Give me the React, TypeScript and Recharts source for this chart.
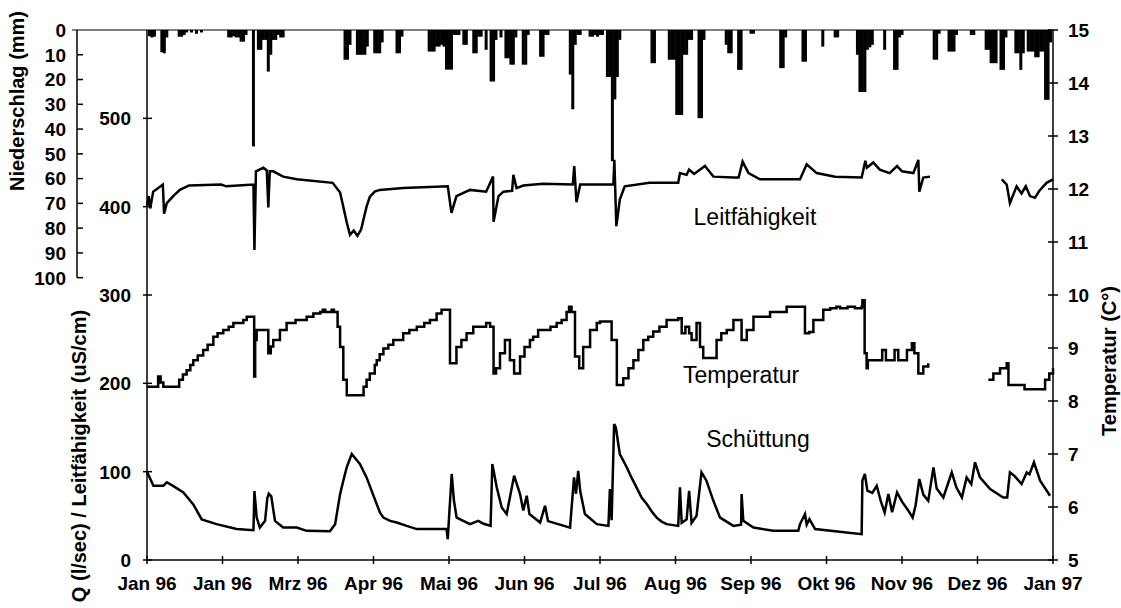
import React from 'react';
import {
  ComposedChart,
  Bar,
  Line,
  XAxis,
  YAxis,
  ReferenceLine,
  ReferenceDot,
} from 'recharts';

const FONT = '"Liberation Sans", Arial, Helvetica, sans-serif';

const WIDTH = 1121;
const HEIGHT = 608;
const TOP = 30;
const X_AXIS_H = 48;
const PLOT_H = HEIGHT - TOP - X_AXIS_H;
const RAIN_AXIS_W = 77;
const FLOW_AXIS_W = 70;
const TEMP_AXIS_W = 68;
const RAIN_MAX = 214;
const RAIN_STEP = (PLOT_H * 10) / RAIN_MAX;
const RAIN_BAR_W = 3;

// x axis: day of year 1996, ticks every 30.5 days
const monthTicks = [0, 30.5, 61, 91.5, 122, 152.5, 183, 213.5, 244, 274.5, 305, 335.5, 366];
const monthLabels = [
  'Jan 96', 'Jan 96', 'Mrz 96', 'Apr 96', 'Mai 96', 'Jun 96', 'Jul 96',
  'Aug 96', 'Sep 96', 'Okt 96', 'Nov 96', 'Dez 96', 'Jan 97',
];
const rainTicks = [0, 10, 20, 30, 40, 50, 60, 70, 80, 90, 100];
const flowTicks = [0, 100, 200, 300, 400, 500];
const tempTicks = [5, 6, 7, 8, 9, 10, 11, 12, 13, 14, 15];

// Niederschlag (mm/Tag)
const rainDays = [
  1, 2, 3, 6, 7, 8, 13, 14, 15, 16, 18, 20, 22, 33, 34, 35, 36, 37, 38, 39, 40,
  43, 45, 46, 47, 48, 49, 50, 51, 52, 53, 54, 55, 80, 81, 82, 85, 86, 87, 88, 89,
  92, 93, 94, 95, 101, 102, 103, 114, 115, 116, 117, 118, 119, 120, 121, 122, 123,
  124, 125, 126, 128, 129, 132, 133, 134, 135, 137, 139, 140, 141, 143, 145, 146,
  147, 148, 149, 152, 153, 154, 159, 160, 161, 162, 171, 172, 173, 174, 175, 179,
  180, 181, 182, 183, 184, 186, 187, 188, 189, 190, 191, 204, 205, 211, 212, 213,
  214, 215, 216, 217, 218, 219, 220, 223, 224, 225, 234, 235, 236, 239, 240, 244,
  245, 256, 257, 258, 265, 266, 273, 278, 279, 287, 288, 289, 290, 291, 292, 293,
  298, 302, 303, 304, 305, 318, 319, 320, 324, 325, 326, 327, 333, 334, 339, 340,
  341, 342, 343, 345, 346, 347, 351, 352, 353, 354, 356, 357, 358, 359, 360, 361,
  362, 363, 364, 365,
];
const rainMm = [
  2.5, 3, 2.7, 9, 9.4, 3, 2.7, 2.7, 2, 1, 1, 1.5, 1, 3, 3, 2.5, 3, 3, 4.7, 4.7, 2,
  47, 8, 8, 4, 4, 16.8, 10, 4, 4, 2, 3, 3, 12, 12, 6, 10, 10, 10, 10, 6.7,
  9.4, 9.4, 9.4, 5, 9.4, 9.4, 2.7, 8.7, 8.7, 8.7, 6.7, 6.7, 6, 6.7, 16, 16, 16,
  2, 2, 2, 6, 6, 9.4, 9.4, 2.7, 2.7, 8, 20.8, 20.8, 4, 3, 11.4, 11.4,
  14, 14, 3, 14, 14, 2, 10.8, 10.8, 2, 2, 18, 32, 6, 2, 2, 2.7,
  2.7, 2, 2.7, 2, 2, 19, 19, 53, 28, 19, 4, 13.4, 13.4, 12, 12, 12,
  34.3, 34.3, 34.3, 10, 10, 4, 4, 35.6, 35.6, 4, 6, 9.4, 9.4, 16.1, 16.1, 1.5,
  1.5, 15.4, 15.4, 3, 12.8, 12.8, 6.7, 3, 3, 10, 25, 25, 25, 8, 7, 6,
  8, 16.1, 16.1, 3, 2, 12, 12, 1.5, 8.7, 8.7, 8.7, 2, 2, 2, 8, 8,
  13.4, 13.4, 13.4, 16.1, 16.1, 3, 9.4, 9.4, 16.1, 9.4, 8.7, 8.7, 8.7, 11, 11, 8.7,
  8.7, 28.2, 28.2, 5,
];

// Leitfähigkeit (uS/cm), Lücke im Nov/Dez
const leitDays = [
  0, 0.7, 1.3, 2.5, 4, 6.4, 6.9, 8, 10.6, 13.3, 17, 30, 32, 43, 43.4, 44, 47, 48.4, 49,
  49.6, 51, 55, 60.5, 75, 78, 79.3, 80.7, 82, 83.5, 85, 86.5, 87.4, 88.7, 90, 92, 94, 103.5,
  121.5, 123, 125, 130.5, 137, 139.8, 140, 142, 144, 147.5, 148, 149.3, 152, 160,
  172, 172.6, 173.5, 175, 185, 188.4, 188.8, 189.6, 191, 193, 203, 214.6, 215.3,
  218, 219, 221, 225.4, 228.8, 236.9, 239, 240.6, 243, 247.6, 263.8, 266.5, 270.5,
  278, 288.7, 290.2, 290.8, 293.4, 296, 300, 303, 305, 309.6, 311.6, 312, 313.6,
  316.3, 330, 345.3, 347.3, 348.6, 351.3, 353.3, 355, 356.7, 358.7, 360.5, 363.4, 366,
];
const leitValues = [
  400, 412, 398, 417, 420, 425, 392, 404, 412, 419, 424, 425, 423, 425, 351, 440, 444, 441, 399,
  440, 440, 434, 431, 427, 416, 400, 382, 368, 373, 367, 374, 385, 400, 411, 417, 419, 421,
  423, 393, 412, 419, 417, 434, 383, 412, 417, 418, 436, 421, 424, 426,
  425, 446, 405, 425, 425, 425, 453, 378, 408, 423, 427, 427, 438,
  436, 442, 437, 446, 434, 433, 433, 451, 438, 431, 431, 448, 438,
  434, 433, 452, 444, 450, 442, 438, 446, 440, 438, 453, 417, 433,
  434, null, 431, 425, 404, 423, 415, 423, 412, 410, 418, 427, 431,
];

// Temperatur (°C)
const tempDays = [
  0, 4, 4.5, 5.5, 6.6, 12, 13, 14.5, 16, 17.5, 18.7, 20.5, 22.7, 24.5, 26.8, 28.5,
  30.8, 33, 34.9, 38.9, 40.3, 43, 43.3, 43.7, 44.3, 48.4, 49, 50, 51, 53.7, 56.4, 60,
  64.5, 67.2, 70, 71, 72, 74.6, 75.5, 77, 78, 79.3, 80.7, 86, 87.5, 88.7, 90, 92,
  92.8, 94, 95.5, 97.5, 99.5, 103.5, 106, 109, 112, 114.3, 117, 119, 121.7, 122.4,
  125, 127, 129.1, 131.8, 136, 137, 138.6, 140, 141, 142.6, 144.6, 146.6, 148.3,
  150.7, 152.5, 154.7, 156, 158, 160, 163, 165.5, 167.5, 169.5, 170.5, 171.5, 172.2,
  172.9, 174.6, 176.2, 179, 181.7, 183, 186.4, 187.7, 189.8, 192.4, 194.5, 196.5,
  198.5, 200.5, 202.5, 204.5, 207, 209.9, 214.6, 216, 217.5, 219, 220, 222, 223.4,
  224.7, 227.4, 230.1, 232, 234.2, 236.9, 240, 240.2, 242.3, 245, 251.7, 258.4,
  263.8, 265.8, 267.5, 269.2, 273.2, 276, 278.5, 280, 283, 286, 288.7, 289, 289.9,
  290.7, 291.2, 296, 297, 298.5, 300.5, 302, 303.5, 305, 307, 309, 310, 311.6,
  313.6, 315.6, 328, 339.9, 341.9, 344.6, 347.3, 348, 354, 354.5, 360.7, 362.8,
  364.5, 366,
];
const tempValues = [
  8.27, 8.27, 8.46, 8.35, 8.27, 8.27, 8.4, 8.5, 8.58, 8.68, 8.77, 8.86, 8.96, 9.06, 9.21, 9.28,
  9.34, 9.4, 9.47, 9.53, 9.59, 9.59, 8.46, 9.15, 9.34, 9.34, 8.9, 9.03, 9.15, 9.34, 9.47, 9.53,
  9.59, 9.65, 9.68, 9.72, 9.68, 9.72, 9.68, 9.4, 9.02, 8.4, 8.11, 8.11, 8.27, 8.4, 8.52, 8.68,
  8.77, 8.88, 8.99, 9.06, 9.15, 9.28, 9.34, 9.4, 9.47, 9.53, 9.65, 9.72, 9.72, 8.71,
  9.02, 9.15, 9.28, 9.4, 9.4, 9.47, 9.4, 8.52, 8.62, 8.9, 9.15, 8.77, 8.52,
  8.84, 9.02, 9.15, 9.21, 9.34, 9.34, 9.4, 9.47, 9.53, 9.68, 9.78, 9.68, 9.68,
  8.84, 8.62, 9.02, 9.34, 9.47, 9.5, 9.5, 9.15, 8.3, 8.43, 8.62, 8.77,
  8.96, 9.15, 9.21, 9.31, 9.4, 9.53, 9.56, 9.28, 9.4, 9.28, 9.15, 9.47, 9.02,
  8.81, 8.81, 9.15, 9.28, 9.34, 9.53, 9.53, 9.15, 9.34, 9.59, 9.68, 9.78,
  9.78, 9.28, 9.3, 9.53, 9.72, 9.75, 9.78, 9.75, 9.78, 9.75, 9.78, 9.9, 8.9,
  8.62, 8.77, 8.77, 8.96, 8.77, 8.77, 8.96, 8.77, 8.77, 8.96, 9.09, 8.9, 8.52,
  8.65, 8.71, null, 8.4, 8.52, 8.62, 8.71, 8.3, 8.3, 8.22, 8.22, 8.4,
  8.52, 8.62,
];

// Schüttung Q (l/sec)
const flowDays = [
  0, 2.6, 6.6, 8, 11, 14.7, 18.7, 22.1, 28.1, 36.2, 43, 43.4, 44.3, 45.6, 47.7, 48.6,
  49.2, 50.2, 51.7, 55, 60.5, 64.5, 73.9, 76, 78, 79.3, 80.7, 82.7, 86, 88.7, 90.8, 92.8,
  94.1, 95.5, 98.2, 100.9, 104.9, 109, 121, 121.5, 122.1, 123.1, 124, 125.1, 130.5, 133.8,
  136, 138.8, 139.5, 141.3, 143.3, 145.3, 148.3, 150.7, 152, 153.4, 154.5, 158.8, 160.8,
  162, 170.9, 172.5, 173.3, 174.2, 175, 176.9, 181.7, 186.4, 187, 187.7, 188.7, 189.4,
  191, 192.4, 193.8, 195.7, 197.8, 199.8, 201.9, 203.9, 205.9, 207.9, 209.9, 214.6,
  215.3, 216, 218, 219, 220, 222, 224, 226,
  228.8, 231.5, 236.9, 240, 240.2, 240.9, 245, 253, 263.1, 263.8, 265.8, 266.5, 267.6,
  269.9, 278, 288.7, 289, 290, 291, 293, 294.8, 296.5, 298, 299.5, 301, 303, 305,
  307.6, 309.3, 310.5, 312, 313.6, 315.6, 317.7, 319, 321.7, 325.1, 327, 329.2,
  331.1, 333, 334.5, 336.5, 340.6, 345.9, 347.5, 348.6, 350.5, 353.3, 355.4, 356.5,
  358.3, 360.8, 364.8,
];
const flowValues = [
  100, 84, 84, 88, 83, 76.5, 63, 46, 40.6, 35, 33.7, 78, 48, 36.7, 44.3, 70,
  75, 72, 44.3, 36.7, 36.7, 33, 32.5, 40.6, 74.6, 89.8, 105, 120, 108.7, 93.5, 78, 63.3,
  53.8, 48, 44.3, 42.4, 38.6, 35, 35, 23.5, 52, 97.4, 67, 48, 40.6, 44.3,
  41, 38.6, 108.7, 82, 59.4, 52, 95.5, 74.6, 56, 72.7, 52, 42.4, 61.4,
  44, 36.7, 93.5, 75, 101, 78, 52, 40.6, 38.6, 80.3, 45, 154, 150,
  120, 112.5, 105, 93.5, 82, 70.8, 63.3, 55, 48, 43.5, 40.6, 38.6,
  82.2, 42, 46, 78.4, 42, 50, 99.2, 89.8,
  67, 48, 38.6, 40, 74.6, 44.3, 36.7, 33, 33, 40.6, 52, 40, 46.2,
  35, 32.5, 29.2, 89.8, 97.4, 78.4, 76, 84, 66, 53.8, 74.6, 54, 76.5, 66,
  55.7, 48, 62, 91.7, 74, 67, 104.9, 81, 70.8, 99.2, 82, 70.8,
  93.5, 86, 110.6, 93.5, 80.3, 70.8, 70.8, 99.2, 95, 86, 99.2, 97,
  110.6, 89.8, 72.7,
];

const rainData = rainDays.map((day, i) => ({ day, rain: rainMm[i] }));
const leitData = leitDays.map((day, i) => ({ day, leit: leitValues[i] }));
const tempData = tempDays.map((day, i) => ({ day, temp: tempValues[i] }));
const flowData = flowDays.map((day, i) => ({ day, flow: flowValues[i] }));

const INK = '#000';
const tickText = { fontSize: 19, fontWeight: 700, fill: INK };

// the line series use fractional days, so recharts' own band is far too narrow;
// draw each daily bar at a fixed width centred on its day
function RainBar({ x, y, width, height }: any) {
  if (!Number.isFinite(x) || !Number.isFinite(y) || !height) return null;
  const top = Math.min(y, y + height);
  return (
    <rect
      x={x + width / 2 - RAIN_BAR_W / 2}
      y={top}
      width={RAIN_BAR_W}
      height={Math.abs(height)}
      fill={INK}
    />
  );
}

function MonthTick({ x, y, index }: any) {
  return (
    <g>
      <line x1={x} y1={y - 4} x2={x} y2={y + 4} stroke={INK} strokeWidth={1.5} />
      <text x={x} y={y + 30} textAnchor="middle" {...tickText}>
        {monthLabels[index]}
      </text>
    </g>
  );
}

function RainTick({ x, y, payload }: any) {
  const v = payload.value;
  return (
    <g>
      {v > 0 && (
        <line x1={x} y1={y - RAIN_STEP} x2={x} y2={y} stroke={INK} strokeWidth={1.5} />
      )}
      {v === 0 ? (
        <line x1={x - 5} y1={y} x2={x + FLOW_AXIS_W} y2={y} stroke={INK} strokeWidth={1.2} />
      ) : (
        <line x1={x} y1={y} x2={x + 6} y2={y} stroke={INK} strokeWidth={1.5} />
      )}
      <text x={x - 11} y={y} dy="0.36em" textAnchor="end" {...tickText}>
        {v}
      </text>
    </g>
  );
}

function FlowTick({ x, y, payload }: any) {
  return (
    <g>
      <line x1={x - 4} y1={y} x2={x + 5} y2={y} stroke={INK} strokeWidth={1.5} />
      <text x={x - 16} y={y} dy="0.36em" textAnchor="end" {...tickText}>
        {payload.value}
      </text>
    </g>
  );
}

function TempTick({ x, y, payload }: any) {
  return (
    <g>
      <line x1={x - 5} y1={y} x2={x + 5} y2={y} stroke={INK} strokeWidth={1.5} />
      <text x={x + 15} y={y} dy="0.36em" textAnchor="start" {...tickText}>
        {payload.value}
      </text>
    </g>
  );
}

const axisTitle = (text: string, dx: number, cy: number) => (props: any) => {
  const vb = props.viewBox;
  const x = vb.x + dx;
  const y = vb.y + cy;
  return (
    <text
      x={x}
      y={y}
      transform={`rotate(-90 ${x} ${y})`}
      textAnchor="middle"
      dominantBaseline="central"
      fontSize={20}
      fontWeight={700}
      fill={INK}
    >
      {text}
    </text>
  );
};

const seriesLabel = (value: string) => ({
  value,
  position: 'center' as const,
  fontSize: 23,
  fill: INK,
});

export default function App() {
  return (
    <div style={{ position: 'absolute', left: 0, top: 0, background: '#fff', fontFamily: FONT }}>
      <ComposedChart
        width={WIDTH}
        height={HEIGHT}
        data={rainData}
        margin={{ top: TOP, right: 0, bottom: 0, left: 0 }}
      >
        <XAxis
          dataKey="day"
          type="number"
          domain={[0, 366]}
          ticks={monthTicks}
          interval={0}
          height={X_AXIS_H}
          tickSize={0}
          tickMargin={0}
          tickLine={false}
          tick={<MonthTick />}
          axisLine={{ stroke: INK, strokeWidth: 1.5 }}
        />
        <YAxis
          yAxisId="flow"
          type="number"
          domain={[0, 600]}
          ticks={flowTicks}
          interval={0}
          width={FLOW_AXIS_W}
          tickSize={0}
          tickMargin={0}
          tickLine={false}
          tick={<FlowTick />}
          axisLine={{ stroke: INK, strokeWidth: 1.5 }}
          label={{ content: axisTitle('Q (l/sec) / Leitfähigkeit (uS/cm)', 2, 426) }}
        />
        <YAxis
          yAxisId="rain"
          type="number"
          reversed
          domain={[0, RAIN_MAX]}
          ticks={rainTicks}
          interval={0}
          width={RAIN_AXIS_W}
          tickSize={0}
          tickMargin={0}
          tickLine={false}
          tick={<RainTick />}
          axisLine={false}
          label={{ content: axisTitle('Niederschlag (mm)', 17, 71) }}
        />
        <YAxis
          yAxisId="temp"
          orientation="right"
          type="number"
          domain={[5, 15]}
          ticks={tempTicks}
          interval={0}
          width={TEMP_AXIS_W}
          tickSize={0}
          tickMargin={0}
          tickLine={false}
          tick={<TempTick />}
          axisLine={{ stroke: INK, strokeWidth: 1.5 }}
          label={{ content: axisTitle('Temperatur (C°)', 56, 331) }}
        />

        <ReferenceLine yAxisId="rain" y={0} stroke={INK} strokeWidth={1.2} />

        <Bar
          yAxisId="rain"
          dataKey="rain"
          fill={INK}
          shape={<RainBar />}
          isAnimationActive={false}
        />
        <Line
          yAxisId="flow"
          data={leitData}
          dataKey="leit"
          type="linear"
          stroke={INK}
          strokeWidth={2.5}
          dot={false}
          isAnimationActive={false}
        />
        <Line
          yAxisId="temp"
          data={tempData}
          dataKey="temp"
          type="stepAfter"
          stroke={INK}
          strokeWidth={2.5}
          dot={false}
          isAnimationActive={false}
        />
        <Line
          yAxisId="flow"
          data={flowData}
          dataKey="flow"
          type="linear"
          stroke={INK}
          strokeWidth={2.5}
          dot={false}
          isAnimationActive={false}
        />

        <ReferenceDot
          yAxisId="flow"
          x={245.6}
          y={389}
          r={0}
          fill="none"
          stroke="none"
          label={seriesLabel('Leitfähigkeit')}
        />
        <ReferenceDot
          yAxisId="temp"
          x={240}
          y={8.5}
          r={0}
          fill="none"
          stroke="none"
          label={seriesLabel('Temperatur')}
        />
        <ReferenceDot
          yAxisId="flow"
          x={246.8}
          y={137.5}
          r={0}
          fill="none"
          stroke="none"
          label={seriesLabel('Schüttung')}
        />
      </ComposedChart>
    </div>
  );
}
